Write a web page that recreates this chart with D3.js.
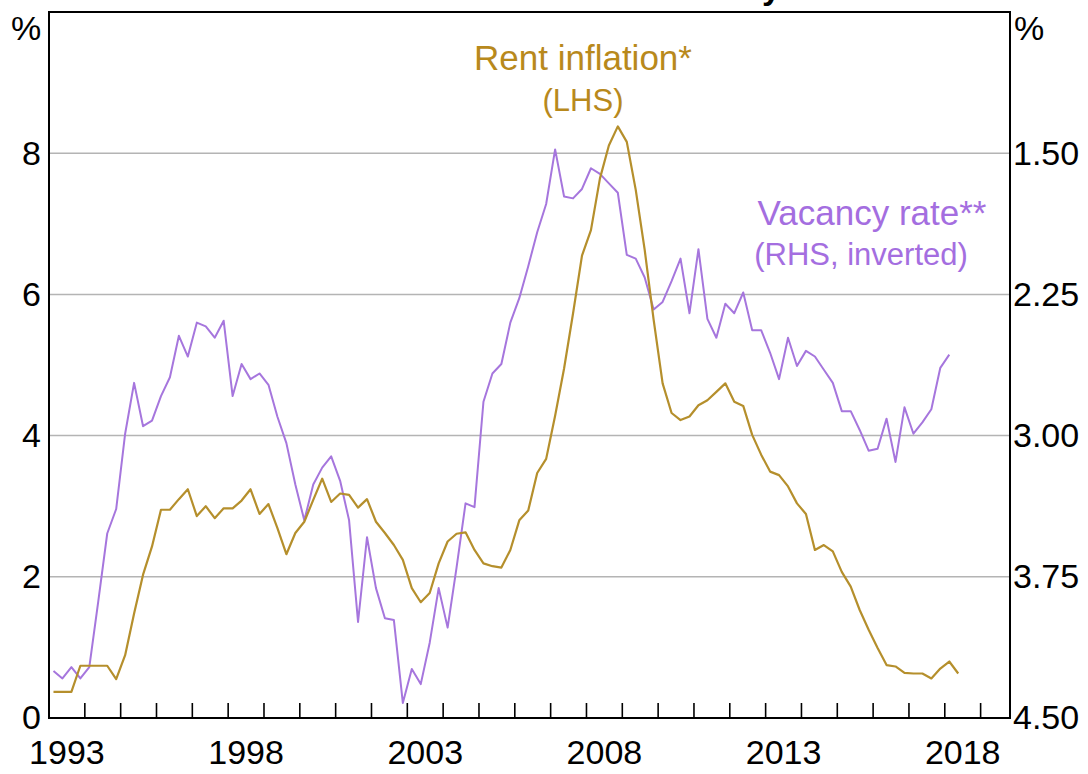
<!DOCTYPE html>
<html>
<head>
<meta charset="utf-8">
<script src="https://cdn.jsdelivr.net/npm/d3@7"></script>
<style>
  html, body { margin: 0; padding: 0; background: #fff; }
  svg { display: block; }
  text { font-family: Arial, "Liberation Sans", sans-serif; }
</style>
</head>
<body>
<svg id="chart" width="1088" height="774"></svg>
<script>
// ---- Data (quarterly, starting 1993 Q1) ----
const startYear = 1993;
const rentInflation = [
  0.37, 0.37, 0.37, 0.74, 0.74, 0.74, 0.74, 0.55, 0.89, 1.48,
  2.03, 2.43, 2.95, 2.95, 3.10, 3.24, 2.86, 3.00, 2.83, 2.97,
  2.97, 3.08, 3.24, 2.89, 3.03, 2.69, 2.32, 2.62, 2.78, 3.09,
  3.39, 3.06, 3.18, 3.16, 2.98, 3.10, 2.78, 2.62, 2.45, 2.24,
  1.84, 1.64, 1.77, 2.19, 2.50, 2.61, 2.63, 2.38, 2.19, 2.15,
  2.13, 2.38, 2.80, 2.94, 3.47, 3.67, 4.28, 4.95, 5.73, 6.55,
  6.91, 7.64, 8.11, 8.38, 8.16, 7.48, 6.63, 5.64, 4.74, 4.32,
  4.22, 4.27, 4.43, 4.50, 4.62, 4.74, 4.48, 4.42, 4.01, 3.73,
  3.49, 3.44, 3.28, 3.04, 2.89, 2.38, 2.45, 2.36, 2.07, 1.86,
  1.53, 1.25, 0.99, 0.75, 0.73, 0.64, 0.63, 0.63, 0.56, 0.70,
  0.80, 0.63
];
const vacancyRate = [
  4.25, 4.29, 4.23, 4.29, 4.23, 3.88, 3.52, 3.39, 2.99, 2.72,
  2.95, 2.92, 2.79, 2.69, 2.47, 2.58, 2.40, 2.42, 2.48, 2.39,
  2.79, 2.62, 2.70, 2.67, 2.73, 2.90, 3.04, 3.26, 3.45, 3.26,
  3.17, 3.11, 3.24, 3.45, 3.99, 3.54, 3.81, 3.97, 3.98, 4.42,
  4.24, 4.32, 4.10, 3.81, 4.02, 3.70, 3.36, 3.38, 2.82, 2.67,
  2.62, 2.40, 2.27, 2.10, 1.92, 1.77, 1.48, 1.73, 1.74, 1.69,
  1.58, 1.61, 1.66, 1.71, 2.04, 2.06, 2.16, 2.33, 2.29, 2.18,
  2.06, 2.35, 2.01, 2.38, 2.48, 2.30, 2.35, 2.24, 2.44, 2.44,
  2.56, 2.70, 2.48, 2.63, 2.55, 2.58, 2.65, 2.72, 2.87, 2.87,
  2.97, 3.08, 3.07, 2.91, 3.14, 2.85, 2.99, 2.93, 2.86, 2.64,
  2.57
];
const leftTicks = [0, 2, 4, 6, 8];
const rightTicks = [4.50, 3.75, 3.00, 2.25, 1.50];
const yearLabels = [1993, 1998, 2003, 2008, 2013, 2018];
const yearTickStart = 1994, yearTickEnd = 2019;

// ---- Layout ----
const plotLeft = 49, plotRight = 1010, plotTop = 12, plotBottom = 718;
const goldLine = "#b58f2c", goldText = "#b8891c";
const purpleLine = "#a676dd", purpleText = "#a46ee0";
const fontSize = 34;

const svg = d3.select("#chart");

const x = d3.scaleLinear().domain([1993, 2019.82]).range([plotLeft, plotRight]);
const yL = d3.scaleLinear().domain([0, 10]).range([plotBottom, plotTop]);
const yR = d3.scaleLinear().domain([4.5, 0.75]).range([plotBottom, plotTop]);
const qTime = i => startYear + 0.125 + 0.25 * i;

// Partially visible title (cut off at the top of the picture)
svg.append("text")
  .attr("x", 781).attr("y", -1)
  .attr("text-anchor", "end")
  .attr("font-weight", "bold")
  .attr("font-size", 34)
  .attr("fill", "#000")
  .text("Rent Inflation and Vacancy");

// Gridlines
svg.append("g").selectAll("line")
  .data(leftTicks.filter(d => d > 0))
  .join("line")
  .attr("x1", plotLeft).attr("x2", plotRight)
  .attr("y1", d => yL(d)).attr("y2", d => yL(d))
  .attr("stroke", "#b4b4b4").attr("stroke-width", 1.5);

// Lines
const rentLine = d3.line().x((d, i) => x(qTime(i))).y(d => yL(d));
const vacLine = d3.line().x((d, i) => x(qTime(i))).y(d => yR(d));

svg.append("path").datum(vacancyRate)
  .attr("d", vacLine).attr("fill", "none")
  .attr("stroke", purpleLine).attr("stroke-width", 2)
  .attr("stroke-linejoin", "round");
svg.append("path").datum(rentInflation)
  .attr("d", rentLine).attr("fill", "none")
  .attr("stroke", goldLine).attr("stroke-width", 2.2)
  .attr("stroke-linejoin", "round");

// Year ticks (inward, from bottom axis)
const yearTicks = d3.range(yearTickStart, yearTickEnd + 1);
svg.append("g").selectAll("line")
  .data(yearTicks)
  .join("line")
  .attr("x1", d => x(d)).attr("x2", d => x(d))
  .attr("y1", plotBottom).attr("y2", plotBottom - 15)
  .attr("stroke", "#000").attr("stroke-width", 1.6);

// Frame
svg.append("rect")
  .attr("x", plotLeft).attr("y", plotTop)
  .attr("width", plotRight - plotLeft).attr("height", plotBottom - plotTop)
  .attr("fill", "none").attr("stroke", "#000").attr("stroke-width", 2);

// Left axis labels
const axL = d3.axisLeft(yL).tickValues(leftTicks).tickSize(0).tickPadding(8).tickFormat(d3.format("d"));
const gL = svg.append("g").attr("transform", `translate(${plotLeft},0)`).call(axL);
gL.select(".domain").remove();
gL.selectAll("text").attr("font-size", fontSize).attr("fill", "#000")
  .attr("font-family", "Arial, 'Liberation Sans', sans-serif");

// Right axis labels
const axR = d3.axisRight(yR).tickValues(rightTicks).tickSize(0).tickPadding(3).tickFormat(d3.format(".2f"));
const gR = svg.append("g").attr("transform", `translate(${plotRight},0)`).call(axR);
gR.select(".domain").remove();
gR.selectAll("text").attr("font-size", fontSize).attr("fill", "#000")
  .attr("font-family", "Arial, 'Liberation Sans', sans-serif");

// X labels, centred in the year
svg.append("g").selectAll("text")
  .data(yearLabels)
  .join("text")
  .attr("x", d => x(d + 0.5)).attr("y", 764)
  .attr("text-anchor", "middle")
  .attr("font-size", fontSize).attr("fill", "#000")
  .text(d => d);

// Unit labels
svg.append("text").attr("x", 11).attr("y", 40).attr("font-size", fontSize).text("%");
svg.append("text").attr("x", 1014).attr("y", 40).attr("font-size", fontSize).text("%");

// Series labels
svg.append("text").attr("x", 583).attr("y", 70).attr("text-anchor", "middle")
  .attr("font-size", 35).attr("fill", goldText).text("Rent inflation*");
svg.append("text").attr("x", 583).attr("y", 111).attr("text-anchor", "middle")
  .attr("font-size", 31).attr("fill", goldText).text("(LHS)");
svg.append("text").attr("x", 872).attr("y", 225).attr("text-anchor", "middle")
  .attr("font-size", 35).attr("fill", purpleText).text("Vacancy rate**");
svg.append("text").attr("x", 861).attr("y", 265).attr("text-anchor", "middle")
  .attr("font-size", 31).attr("fill", purpleText).text("(RHS, inverted)");
</script>
</body>
</html>
